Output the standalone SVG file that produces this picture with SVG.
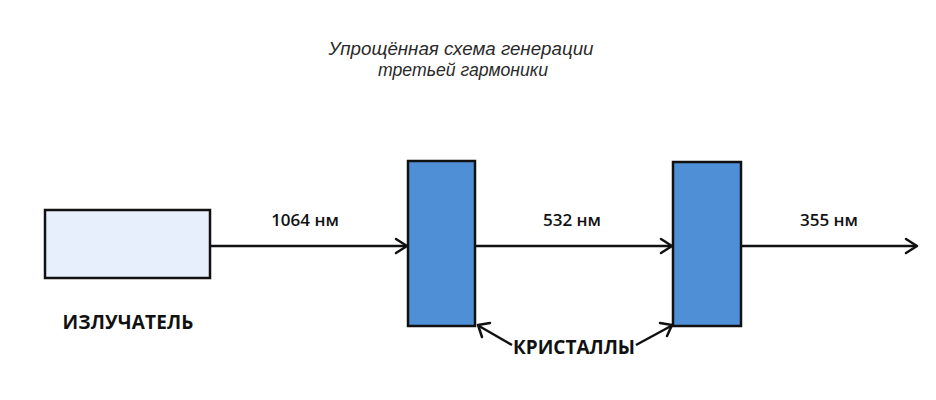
<svg xmlns="http://www.w3.org/2000/svg" width="936" height="400" viewBox="0 0 936 400">
<style>
.box{stroke:#111;stroke-width:2.5}
.lbl{font-family:"Open Sans","Noto Sans",sans-serif;font-weight:600;font-size:17px;fill:#111}
.big{font-family:"Open Sans","Noto Sans",sans-serif;font-weight:700;font-size:19px;fill:#111}
.title{font-family:"Liberation Sans",Arial,sans-serif;font-style:italic;font-size:18px;fill:#2a2a2a}
.conn{stroke:#111;stroke-width:2.5;fill:none}
.head{stroke:#111;stroke-width:2.5;fill:none;stroke-linecap:round;stroke-linejoin:round}
</style>
<rect width="936" height="400" fill="#fff"/>
<g id="title">
<text class="title" x="461" y="55" text-anchor="middle" textLength="265" lengthAdjust="spacingAndGlyphs">Упрощённая схема генерации</text>
<text class="title" x="463" y="76" text-anchor="middle" textLength="170" lengthAdjust="spacingAndGlyphs">третьей гармоники</text>
</g>
<g id="emitter">
<rect class="box" x="45" y="210" width="165" height="68" fill="#e8effc"/>
<text class="big" x="128" y="329" text-anchor="middle" textLength="131">ИЗЛУЧАТЕЛЬ</text>
</g>
<g id="crystal1">
<rect class="box" x="408" y="161" width="67" height="165" fill="#4f8fd6"/>
</g>
<g id="crystal2">
<rect class="box" x="673" y="162" width="68" height="164" fill="#4f8fd6"/>
</g>
<g id="crystals-label">
<text class="big" x="574" y="354" text-anchor="middle">КРИСТАЛЛЫ</text>
</g>
<g id="connectors">
<line class="conn" x1="210" y1="246" x2="406" y2="246"/>
<polyline class="head" points="396,239 407,246 396,253"/>
<text class="lbl" x="305" y="226" text-anchor="middle">1064 нм</text>
<line class="conn" x1="475" y1="246" x2="671" y2="246"/>
<polyline class="head" points="661,239 672,246 661,253"/>
<text class="lbl" x="572" y="226" text-anchor="middle">532 нм</text>
<line class="conn" x1="741" y1="246" x2="916" y2="246"/>
<polyline class="head" points="906,239 917,246 906,253"/>
<text class="lbl" x="829" y="226" text-anchor="middle">355 нм</text>
<line class="conn" x1="512" y1="345" x2="479" y2="326"/>
<polyline class="head" points="482,337 478,325 490,323"/>
<line class="conn" x1="636" y1="345" x2="671" y2="326"/>
<polyline class="head" points="660,323 672,325 667,336"/>
</g>
</svg>
